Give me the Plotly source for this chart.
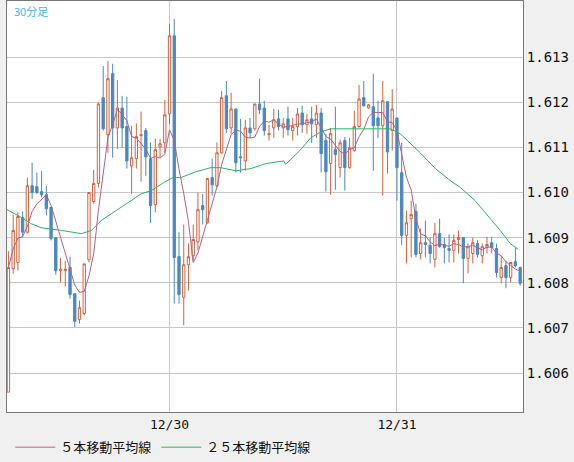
import plotly.graph_objects as go
import pandas as pd

opens = [1.60558,1.60831,1.60845,1.60945,1.60912,1.61015,1.61013,1.61002,1.60995,1.60967,
1.60900,1.60827,1.60827,1.60834,1.60776,1.60719,1.60732,1.60851,1.60980,1.61020,
1.61210,1.61128,1.61263,1.61143,1.61187,1.61146,1.61059,1.61075,1.61126,1.61137,
1.61075,1.60973,1.61101,1.61110,1.61174,1.61347,1.60858,1.60768,1.60840,1.60860,
1.60891,1.60971,1.60933,1.61033,1.61015,1.61088,1.61214,1.61143,1.61185,1.61079,
1.61070,1.61143,1.61141,1.61196,1.61187,1.61128,1.61143,1.61163,1.61143,1.61163,
1.61137,1.61146,1.61176,1.61150,1.61163,1.61150,1.61176,1.61115,1.61064,1.61095,
1.61055,1.61115,1.61055,1.61093,1.61146,1.61210,1.61187,1.61190,1.61165,1.61148,
1.61201,1.61137,1.61165,1.61044,1.60905,1.60942,1.60958,1.60865,1.60889,1.60883,
1.60852,1.60909,1.60885,1.60876,1.60872,1.60896,1.60900,1.60854,1.60865,1.60887,
1.60860,1.60878,1.60889,1.60876,1.60812,1.60838,1.60812,1.60847,1.60834]
highs = [1.60870,1.60951,1.60956,1.60958,1.61033,1.61066,1.61044,1.61048,1.61015,1.60967,
1.60900,1.60855,1.60849,1.60858,1.60776,1.60761,1.60842,1.61000,1.61050,1.61199,
1.61280,1.61291,1.61285,1.61249,1.61214,1.61212,1.61148,1.61153,1.61179,1.61143,
1.61111,1.61119,1.61119,1.61205,1.61373,1.61384,1.60912,1.60929,1.60887,1.60929,
1.61000,1.60997,1.61031,1.61075,1.61111,1.61225,1.61247,1.61221,1.61185,1.61163,
1.61161,1.61165,1.61196,1.61252,1.61203,1.61150,1.61185,1.61183,1.61165,1.61190,
1.61165,1.61187,1.61192,1.61174,1.61190,1.61194,1.61187,1.61130,1.61143,1.61190,
1.61117,1.61123,1.61121,1.61181,1.61238,1.61247,1.61196,1.61263,1.61203,1.61247,
1.61201,1.61229,1.61165,1.61110,1.60960,1.60982,1.60975,1.60920,1.60938,1.60900,
1.60933,1.60942,1.60900,1.60907,1.60907,1.60916,1.60900,1.60887,1.60900,1.60894,
1.60887,1.60902,1.60902,1.60887,1.60860,1.60849,1.60845,1.60878,1.60836]
lows = [1.60558,1.60820,1.60827,1.60901,1.60909,1.60986,1.60997,1.60989,1.60949,1.60894,
1.60818,1.60801,1.60792,1.60765,1.60702,1.60710,1.60728,1.60845,1.60975,1.61011,
1.61137,1.61088,1.61077,1.61097,1.61099,1.61053,1.60997,1.61053,1.61024,1.61037,
1.60933,1.60956,1.61077,1.61088,1.61152,1.60754,1.60754,1.60706,1.60783,1.60849,
1.60872,1.60929,1.60931,1.60993,1.61011,1.61086,1.61132,1.61130,1.61044,1.61044,
1.61048,1.61121,1.61137,1.61174,1.61126,1.61115,1.61121,1.61137,1.61121,1.61126,
1.61115,1.61126,1.61132,1.61130,1.61110,1.61121,1.61044,1.61002,1.60995,1.61006,
1.61033,1.61004,1.61053,1.61090,1.61143,1.61190,1.61185,1.61048,1.61121,1.60993,
1.61042,1.61093,1.60982,1.60883,1.60843,1.60856,1.60856,1.60852,1.60856,1.60843,
1.60834,1.60878,1.60843,1.60845,1.60845,1.60865,1.60799,1.60821,1.60843,1.60856,
1.60843,1.60865,1.60865,1.60812,1.60799,1.60788,1.60801,1.60834,1.60794]
closes = [1.60834,1.60916,1.60947,1.60912,1.61015,1.61000,1.61000,1.60995,1.60964,1.60898,
1.60827,1.60830,1.60830,1.60774,1.60715,1.60745,1.60842,1.61000,1.61020,1.61196,
1.61141,1.61252,1.61143,1.61187,1.61143,1.61070,1.61077,1.61124,1.61128,1.61079,
1.60971,1.61095,1.61108,1.61172,1.61347,1.60856,1.60774,1.60840,1.60858,1.60896,
1.60962,1.60962,1.61031,1.61017,1.61088,1.61210,1.61141,1.61185,1.61066,1.61077,
1.61143,1.61132,1.61196,1.61183,1.61137,1.61130,1.61161,1.61146,1.61152,1.61139,
1.61146,1.61174,1.61150,1.61161,1.61152,1.61176,1.61086,1.61046,1.61130,1.61084,
1.61110,1.61055,1.61099,1.61146,1.61207,1.61192,1.61194,1.61148,1.61148,1.61203,
1.61090,1.61185,1.61055,1.60905,1.60933,1.60951,1.60863,1.60889,1.60885,1.60865,
1.60909,1.60880,1.60878,1.60872,1.60894,1.60900,1.60854,1.60880,1.60889,1.60863,
1.60880,1.60885,1.60878,1.60823,1.60834,1.60812,1.60845,1.60838,1.60799]

ma25_x = [-1.5,2.7,4.8,6.9,11.2,15.4,17.5,19.6,21.7,23.8,25.9,28,30.1,32.8,34.7,36.4,39.6,42.7,44.8,
48,51.2,54.3,57.5,58.1,58.5,59.6,61.7,63.8,65.9,68,70.2,74.4,77.5,80.6,82.7,84.8,86.9,90.1,93.3,
95.4,98.5,101.7,103.8,105.9,107.6]
ma25_y = [1.60969,1.60945,1.60931,1.60922,1.60916,1.60909,1.60916,1.60938,1.60953,1.60967,1.60982,
1.60997,1.61004,1.61022,1.61033,1.61033,1.61046,1.61055,1.61055,1.61048,1.61053,1.61064,1.61068,
1.61070,1.61062,1.61073,1.61095,1.61121,1.61134,1.61141,1.61141,1.61141,1.61141,1.61141,1.61130,
1.61110,1.61088,1.61053,1.61026,1.61011,1.60982,1.60942,1.60916,1.60887,1.60874]

tick_pos = [34, 82]
tick_text = ["12/30", "12/31"]
y_ticks = [1.606, 1.607, 1.608, 1.609, 1.610, 1.611, 1.612, 1.613]

x = list(range(len(opens)))
ma5 = pd.Series(closes).rolling(5, min_periods=1).mean().tolist()

fig = go.Figure()
fig.add_trace(go.Candlestick(
    x=x, open=opens, high=highs, low=lows, close=closes, showlegend=False,
    increasing=dict(line=dict(color="#d9603b", width=1), fillcolor="white"),
    decreasing=dict(line=dict(color="#4a89c0", width=1), fillcolor="#4a89c0"),
    whiskerwidth=0, hoverinfo="skip"))
fig.add_trace(go.Scatter(x=x, y=ma5, mode="lines", name="５本移動平均線",
                         line=dict(color="#b0608a", width=1)))
fig.add_trace(go.Scatter(x=ma25_x, y=ma25_y, mode="lines", name="２５本移動平均線",
                         line=dict(color="#2eb36a", width=1)))

fig.update_layout(
    width=574, height=462,
    margin=dict(l=7, r=51, t=1, b=50, autoexpand=False),
    paper_bgcolor="#f0f0f0", plot_bgcolor="white",
    font=dict(family="DejaVu Sans Mono", size=13, color="#111"),
    showlegend=True,
    legend=dict(orientation="h", x=0.018, y=0.032, xref="container", yref="container",
                xanchor="left", yanchor="middle",
                font=dict(family="Noto Sans CJK JP", size=13), bgcolor="rgba(0,0,0,0)",
                itemwidth=40, tracegroupgap=0),
    xaxis=dict(range=[-0.3, 108.6], tickvals=tick_pos, ticktext=tick_text,
               showgrid=True, gridcolor="#c8c8c8", zeroline=False, rangeslider=dict(visible=False),
               showline=True, linecolor="#777", mirror=True, ticks="", tickfont=dict(size=13)),
    yaxis=dict(range=[1.60514, 1.61424], side="right", tickvals=y_ticks,
               tickformat=".3f", showgrid=True, gridcolor="#c8c8c8", zeroline=False,
               showline=True, linecolor="#777", mirror=True, ticks="", tickfont=dict(size=14)),
    annotations=[dict(text="30分足", xref="paper", yref="paper", x=0.01, y=1.0,
                      xanchor="left", yanchor="top", showarrow=False,
                      font=dict(family="Noto Sans CJK JP", size=11, color="#40b8ee"))],
)
fig.write_html("out.html", config={"displayModeBar": False},
               post_script="document.body.style.margin='0';document.body.style.overflow='hidden';")
